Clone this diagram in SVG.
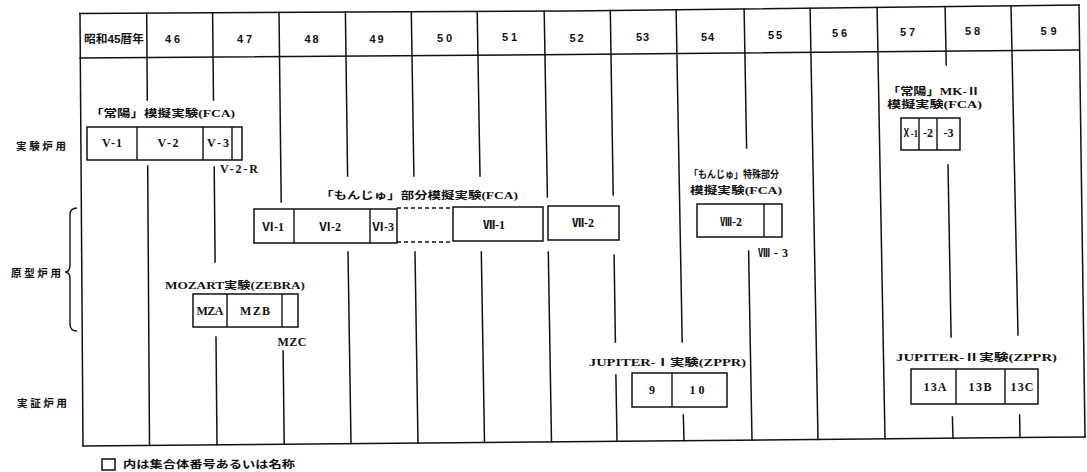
<svg xmlns="http://www.w3.org/2000/svg" width="1087" height="472" viewBox="0 0 1087 472">
<style>
.ln{stroke:#111;stroke-width:1.5;fill:none;stroke-linecap:square}
.bx{stroke:#111;stroke-width:1.5;fill:#fff}
.dv{stroke:#111;stroke-width:1.4;fill:none}
.ds{stroke:#111;stroke-width:1.4;fill:none;stroke-dasharray:4 3}
.hd{font-family:"Liberation Sans","Noto Sans CJK JP",sans-serif;font-weight:bold;font-size:11px;fill:#111;text-anchor:middle;dominant-baseline:central}
.jp{font-family:"Liberation Serif","Noto Sans CJK JP",serif;font-weight:bold;font-size:10.5px;fill:#111;dominant-baseline:central}
.rl{font-family:"Noto Sans CJK JP",sans-serif;font-weight:bold;font-size:10.5px;fill:#111;text-anchor:middle;dominant-baseline:central}
.lb{font-family:"Liberation Serif","Noto Sans CJK JP",serif;font-weight:bold;font-size:12px;fill:#111;text-anchor:middle;dominant-baseline:central}
</style>
<rect width="1087" height="472" fill="#fff"/>

<g id="frame">
<path class="ln" d="M80,13.5 L570,11 L1079,5"/>
<path class="ln" d="M80,58 L570,54.5 L1079,50"/>
<path class="ln" d="M83,446 L1085,437"/>
<path class="ln" d="M80,13.5 L83,446"/>
<path class="ln" d="M1079,5 L1085,437"/>
</g>

<g id="connectors">
<path class="ln" d="M146.7,13.2 L147.3,100 M147.7,166 L149.5,445.4"/>
<path class="ln" d="M212.6,12.8 L213.5,100 M214.2,167 L215.1,262 M216,337 L217,444.8"/>
<path class="ln" d="M279,12.5 L281.2,202 M283.1,351 L284.2,444.2"/>
<path class="ln" d="M345.4,12.1 L347.6,176 M348,252 L351,443.6"/>
<path class="ln" d="M411.3,11.8 L413.9,176 M415,252 L418,443"/>
<path class="ln" d="M477.2,11.5 L480,176 M481.3,252 L484.5,442.4"/>
<path class="ln" d="M544.2,11.1 L547.4,197 M548.3,252 L551.5,441.8"/>
<path class="ln" d="M610.3,10.5 L613.2,195 M614.1,255 L615.4,342 M615.9,375 L617,441.2"/>
<path class="ln" d="M676.1,9.7 L682.2,342 M683.3,415 L684,440.6"/>
<path class="ln" d="M744.1,8.9 L746.6,148 M748.6,251 L752,440"/>
<path class="ln" d="M810.1,8.2 L818,439.4"/>
<path class="ln" d="M877.1,7.4 L885,438.8"/>
<path class="ln" d="M945.1,6.6 L946.2,65 M948,165 L951.1,337 M952.4,417 L953,438.2"/>
<path class="ln" d="M1011,5.8 L1018,335 M1019.6,415 L1020,437.6"/>
</g>

<g id="header">
<text class="hd" x="114" y="38.5" textLength="60" lengthAdjust="spacingAndGlyphs">昭和45暦年</text>
<text class="hd" x="172.5" y="39" textLength="15">46</text>
<text class="hd" x="244.5" y="39" textLength="15">47</text>
<text class="hd" x="311.5" y="38.5" textLength="14">48</text>
<text class="hd" x="376.5" y="38.5" textLength="14">49</text>
<text class="hd" x="444.5" y="37.5" textLength="15">50</text>
<text class="hd" x="509.5" y="37" textLength="15">51</text>
<text class="hd" x="576.5" y="37.5" textLength="14">52</text>
<text class="hd" x="642.5" y="37" textLength="13">53</text>
<text class="hd" x="707.5" y="37" textLength="13">54</text>
<text class="hd" x="775" y="35" textLength="14">55</text>
<text class="hd" x="839.5" y="32.7" textLength="15">56</text>
<text class="hd" x="907.5" y="31.7" textLength="15">57</text>
<text class="hd" x="972.5" y="30.5" textLength="15">58</text>
<text class="hd" x="1048.5" y="30.5" textLength="16">59</text>
</g>

<g id="row-labels">
<text class="rl" x="41" y="145" textLength="50">実験炉用</text>
<text class="rl" x="36" y="272" textLength="50">原型炉用</text>
<path class="dv" d="M77,208 Q70,208 70,215 L70,265 Q70,272 65,272 Q70,272 70,279 L70,324 Q70,331 77,331"/>
<text class="rl" x="42" y="402" textLength="50">実証炉用</text>
</g>

<g id="joyo-fca">
<text class="jp" x="90" y="113" textLength="145" lengthAdjust="spacingAndGlyphs">「常陽」模擬実験(FCA)</text>
<rect class="bx" x="87" y="127" width="155" height="33"/>
<path class="dv" d="M137,127 V160 M203,127 V160 M232,127 V160"/>
<text class="lb" x="112" y="143" textLength="20">V-1</text>
<text class="lb" x="168" y="143" textLength="21">V-2</text>
<text class="lb" x="218" y="143" textLength="22">V-3</text>
<text class="lb" x="239" y="169" textLength="38">V-2-R</text>
</g>

<g id="mozart">
<text class="jp" x="165" y="285" textLength="140" lengthAdjust="spacingAndGlyphs">MOZART実験(ZEBRA)</text>
<rect class="bx" x="193" y="294" width="105" height="33"/>
<path class="dv" d="M227,294 V327 M282,294 V327"/>
<text class="lb" x="210" y="311" textLength="27">MZA</text>
<text class="lb" x="255" y="311" textLength="30">MZB</text>
<text class="lb" x="292" y="342" textLength="29">MZC</text>
</g>

<g id="monju-fca">
<text class="jp" x="320" y="195" textLength="198" lengthAdjust="spacingAndGlyphs">「もんじゅ」部分模擬実験(FCA)</text>
<rect class="bx" x="254" y="209" width="143" height="34"/>
<path class="dv" d="M294,209 V243 M370,209 V243"/>
<path class="ds" d="M397,208 H453 M397,242 H453"/>
<rect class="bx" x="453" y="207" width="90" height="34"/>
<rect class="bx" x="548" y="206" width="71" height="34"/>
<text class="lb" x="273" y="227">Ⅵ-1</text>
<text class="lb" x="330" y="227">Ⅵ-2</text>
<text class="lb" x="383" y="227">Ⅵ-3</text>
<text class="lb" x="494" y="225">Ⅶ-1</text>
<text class="lb" x="583" y="223">Ⅶ-2</text>
</g>

<g id="monju-special">
<text class="jp" x="689" y="174" textLength="90" lengthAdjust="spacingAndGlyphs">「もんじゅ」特殊部分</text>
<text class="jp" x="690" y="190" textLength="92" lengthAdjust="spacingAndGlyphs">模擬実験(FCA)</text>
<rect class="bx" x="697" y="204" width="85" height="33"/>
<path class="dv" d="M764,204 V237"/>
<text class="lb" x="731" y="222">Ⅷ-2</text>
<text class="lb" x="773" y="253" textLength="30">Ⅷ-3</text>
</g>

<g id="joyo-mk2">
<text class="jp" x="887" y="91.5" textLength="93" lengthAdjust="spacingAndGlyphs">「常陽」MK-Ⅱ</text>
<text class="jp" x="887" y="104.5" textLength="95" lengthAdjust="spacingAndGlyphs">模擬実験(FCA)</text>
<rect class="bx" x="901" y="118" width="59" height="32"/>
<path class="dv" d="M919,118 V150 M937,118 V150"/>
<text class="lb" x="910" y="133" textLength="16" lengthAdjust="spacingAndGlyphs" style="font-size:11px">Ⅹ-1</text>
<text class="lb" x="928" y="133">-2</text>
<text class="lb" x="948.5" y="133">-3</text>
</g>

<g id="jupiter-1">
<text class="jp" x="589" y="362" textLength="157" lengthAdjust="spacingAndGlyphs">JUPITER-Ⅰ実験(ZPPR)</text>
<rect class="bx" x="632" y="373" width="95" height="34"/>
<path class="dv" d="M672,373 V407"/>
<text class="lb" x="652" y="390">9</text>
<text class="lb" x="697" y="390" textLength="15">10</text>
</g>

<g id="jupiter-2">
<text class="jp" x="896" y="357" textLength="161" lengthAdjust="spacingAndGlyphs">JUPITER-Ⅱ実験(ZPPR)</text>
<rect class="bx" x="911" y="369" width="127" height="35"/>
<path class="dv" d="M956,369 V404 M1005,369 V404"/>
<text class="lb" x="935" y="387" textLength="23">13A</text>
<text class="lb" x="980" y="387" textLength="23">13B</text>
<text class="lb" x="1022" y="387" textLength="23">13C</text>
</g>

<g id="legend">
<rect class="bx" x="102" y="459" width="13" height="11"/>
<text class="jp" x="123" y="464.5" textLength="172" lengthAdjust="spacingAndGlyphs">内は集合体番号あるいは名称</text>
</g>
</svg>
